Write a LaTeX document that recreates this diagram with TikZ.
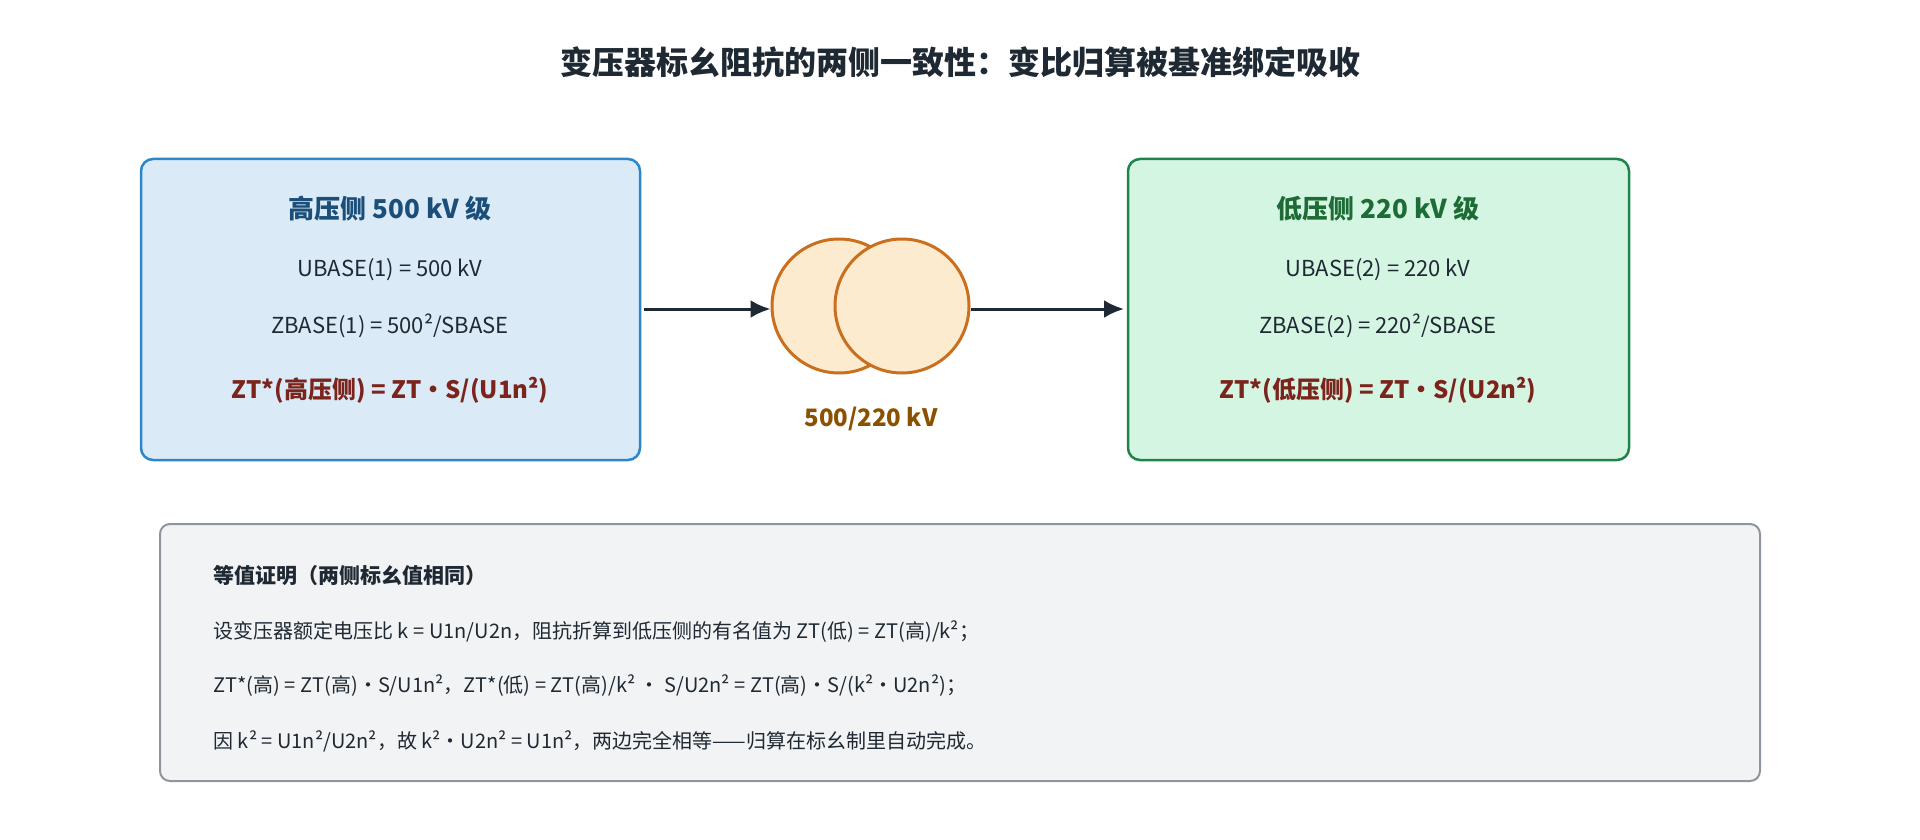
\documentclass[tikz,border=0pt]{standalone}
\usepackage{fontspec}
\setmainfont{Noto Sans CJK SC}
\usetikzlibrary{positioning,arrows.meta}
\definecolor{ink}{HTML}{1F2933}
\definecolor{hiblue}{HTML}{2E86C8}
\definecolor{hifill}{HTML}{DAEAF7}
\definecolor{hititle}{HTML}{1B4F7A}
\definecolor{logreen}{HTML}{1E8449}
\definecolor{lofill}{HTML}{D5F5E3}
\definecolor{lotitle}{HTML}{1D6B35}
\definecolor{zred}{HTML}{7B241C}
\definecolor{trorange}{HTML}{CA6F1E}
\definecolor{trfill}{HTML}{FDEBD0}
\definecolor{trtext}{HTML}{8A5200}
\definecolor{notefill}{HTML}{F2F3F4}
\definecolor{noteline}{HTML}{8E959C}
\begin{document}
\begin{tikzpicture}[x=1pt, y=-1pt, >={Latex[length=20pt,width=18pt]},
  sidebox/.style={rounded corners=12pt, line width=2.5pt},
  body/.style={font=\fontsize{22}{26}\selectfont, text=ink},
  winding/.style={circle, minimum size=134pt, line width=3pt, draw=trorange, fill=trfill},
  notetext/.style={anchor=west, font=\fontsize{20}{24}\selectfont, text=ink}]

  % Rahmen
  \useasboundingbox (0,0) rectangle (1920,840);

  % Titel
  \node[font=\bfseries\fontsize{32}{38}\selectfont, text=ink] (title) at (960,62)
    {变压器标幺阻抗的两侧一致性：变比归算被基准绑定吸收};

  % Hochspannungsseite
  \draw[sidebox, draw=hiblue, fill=hifill] (141,159) rectangle (640,460);
  \node[font=\bfseries\fontsize{26}{30}\selectfont, text=hititle] (hi) at (390,209) {高压侧 500 kV 级};
  \node[body] (hiu) at (390,270) {UBASE(1) = 500 kV};
  \node[body] (hiz) at (390,326) {ZBASE(1) = 500²/SBASE};
  \node[body, font=\bfseries\fontsize{24}{28}\selectfont, text=zred] (hizt) at (390,390) {ZT*(高压侧) = ZT•S/(U1n²)};

  % Niederspannungsseite
  \draw[sidebox, draw=logreen, fill=lofill] (1128,159) rectangle (1629,460);
  \node[font=\bfseries\fontsize{26}{30}\selectfont, text=lotitle] (lo) at (1378,209) {低压侧 220 kV 级};
  \node[body] (lou) at (1378,270) {UBASE(2) = 220 kV};
  \node[body] (loz) at (1378,326) {ZBASE(2) = 220²/SBASE};
  \node[body, font=\bfseries\fontsize{24}{28}\selectfont, text=zred] (lozt) at (1378,390) {ZT*(低压侧) = ZT•S/(U2n²)};

  % Transformator
  \node[winding] (w1) at (839,306) {};
  \node[winding] (w2) at (902,306) {};
  \node[font=\bfseries\fontsize{24}{28}\selectfont, text=trtext] (ratio) at (871,419) {500/220 kV};

  \coordinate (hiout) at (644,309);
  \coordinate (loin) at (1124,309);
  \draw[->, line width=3pt, ink] (hiout) -- (w1.west |- hiout);
  \draw[->, line width=3pt, ink] (w2.east |- loin) -- (loin);

  % Beweis
  \draw[rounded corners=10pt, line width=2pt, draw=noteline, fill=notefill] (160,524) rectangle (1760,781);
  \node[notetext, font=\bfseries\fontsize{21}{25}\selectfont] (n0) at (210,575) {等值证明（两侧标幺值相同）};
  \node[notetext] (n1) at (210,632) {设变压器额定电压比 k = U1n/U2n，阻抗折算到低压侧的有名值为 ZT(低) = ZT(高)/k²；};
  \node[notetext] (n2) at (210,686) {ZT*(高) = ZT(高)·S/U1n²，ZT*(低) = ZT(高)/k² · S/U2n² = ZT(高)·S/(k²·U2n²)；};
  \node[notetext] (n3) at (210,741) {因 k² = U1n²/U2n²，故 k²·U2n² = U1n²，两边完全相等——归算在标幺制里自动完成。};

\end{tikzpicture}
\end{document}
